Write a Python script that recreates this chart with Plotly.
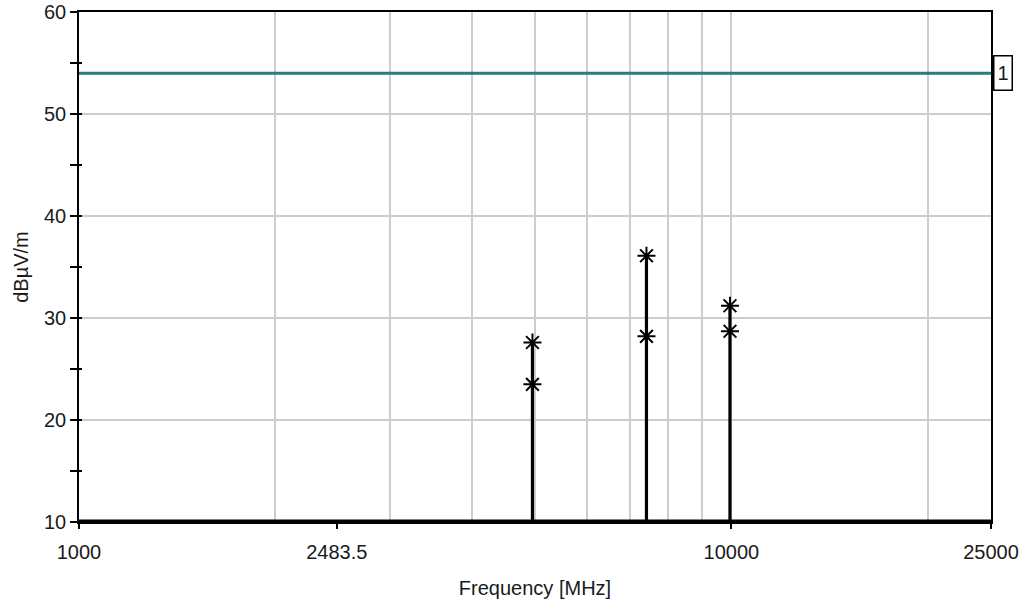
import math
import plotly.graph_objects as go

# Emission scan: peak / average readings at harmonics, with a limit line
freq_mhz = [4955, 7410, 9950]
peak_dbuv = [27.6, 36.1, 31.2]
avg_dbuv = [23.5, 28.2, 28.7]

limit_dbuv = 54
limit_label = "1"
floor_dbuv = 10

x_range = [1000, 25000]
y_range = [10, 60]

grid_freqs = [2000, 3000, 4000, 5000, 6000, 7000, 8000, 9000, 10000, 20000]
label_freqs = [1000, 2483.5, 10000, 25000]
label_text = ["1000", "2483.5", "10000", "25000"]
y_ticks = [10, 20, 30, 40, 50, 60]
y_minor = [15, 25, 35, 45, 55]

FONT = "Liberation Sans"
FSIZE = 20
TEXT = "#1a1a1a"
GRID = "#cdcdcd"

# stems: one segment per frequency from the floor up to the highest reading
stem_x, stem_y = [], []
for f, p, a in zip(freq_mhz, peak_dbuv, avg_dbuv):
    stem_x += [f, f, None]
    stem_y += [floor_dbuv, max(p, a), None]

fig = go.Figure()

# noise floor baseline (main subplot)
fig.add_trace(go.Scatter(
    x=x_range, y=[floor_dbuv, floor_dbuv], mode="lines",
    line=dict(color="black", width=5), hoverinfo="skip", showlegend=False,
))

# limit line
fig.add_trace(go.Scatter(
    x=x_range, y=[limit_dbuv, limit_dbuv], mode="lines",
    line=dict(color="#217f80", width=3), xaxis="x2", yaxis="y2",
    showlegend=False,
))

fig.add_trace(go.Scatter(
    x=stem_x, y=stem_y, mode="lines",
    line=dict(color="black", width=3.2), xaxis="x2", yaxis="y2",
    showlegend=False,
))

marker_style = dict(symbol="asterisk-open", size=15, color="black",
                    line=dict(color="black", width=2))
fig.add_trace(go.Scatter(
    x=freq_mhz, y=peak_dbuv, mode="markers", marker=marker_style,
    xaxis="x2", yaxis="y2", name="Peak", showlegend=False,
))
fig.add_trace(go.Scatter(
    x=freq_mhz, y=avg_dbuv, mode="markers", marker=marker_style,
    xaxis="x2", yaxis="y2", name="Average", showlegend=False,
))

log_range = [math.log10(x_range[0]), math.log10(x_range[1])]

fig.update_layout(
    width=1026, height=606,
    margin=dict(l=79, r=35, t=12, b=84),
    paper_bgcolor="white", plot_bgcolor="white",
    font=dict(family=FONT, size=FSIZE, color=TEXT),
    xaxis=dict(
        type="log", range=log_range, automargin=False,
        tickmode="array", tickvals=grid_freqs,
        showticklabels=False, ticks="",
        showgrid=True, gridcolor=GRID, gridwidth=1.5,
        showline=True, mirror=True, linecolor="black", linewidth=1.5,
    ),
    xaxis2=dict(
        type="log", range=log_range, overlaying="x", anchor="y", side="bottom",
        automargin=False,
        tickmode="array", tickvals=label_freqs, ticktext=label_text,
        ticks="outside", ticklen=6, tickwidth=1.5, tickcolor="black",
        ticklabelstandoff=6,
        showgrid=False, showline=False,
        title=dict(text="Frequency [MHz]", standoff=18,
                   font=dict(family=FONT, size=FSIZE, color=TEXT)),
    ),
    yaxis=dict(
        range=y_range, tickmode="array", tickvals=y_ticks, automargin=False,
        ticks="outside", ticklen=7, tickwidth=1.5, tickcolor="black",
        ticklabelstandoff=0,
        minor=dict(tickmode="array", tickvals=y_minor, ticks="outside",
                   ticklen=7, tickwidth=1.5, tickcolor="black", showgrid=False),
        showgrid=True, gridcolor=GRID, gridwidth=1.5, zeroline=False,
        showline=True, mirror=True, linecolor="black", linewidth=1.5,
        title=dict(text="dBµV/m", standoff=10,
                   font=dict(family=FONT, size=FSIZE, color=TEXT)),
    ),
    yaxis2=dict(
        range=y_range, overlaying="y", anchor="x", side="left", automargin=False,
        tickmode="array", tickvals=y_ticks,
        ticks="inside", ticklen=3, tickwidth=1.5, tickcolor="black",
        minor=dict(tickmode="array", tickvals=y_minor, ticks="inside",
                   ticklen=3, tickwidth=1.5, tickcolor="black", showgrid=False),
        showticklabels=False, showgrid=False, showline=False, zeroline=False,
    ),
    annotations=[dict(
        text=limit_label, x=1, xref="paper", xanchor="left", xshift=2,
        y=limit_dbuv, yref="y", yanchor="middle",
        width=17, height=33, align="center", valign="middle",
        showarrow=False, bordercolor="black", borderwidth=1.5, borderpad=0,
        bgcolor="white", font=dict(family=FONT, size=FSIZE, color=TEXT),
    )],
)

fig.write_html("out.html")
